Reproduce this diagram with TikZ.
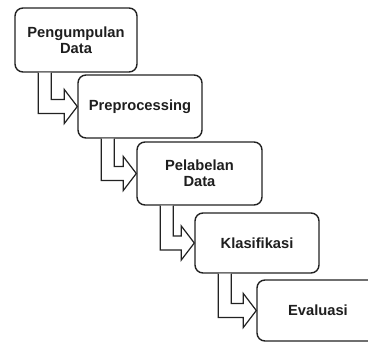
\documentclass[tikz,border=0pt]{standalone}
\usepackage{fontspec}
\setmainfont{Liberation Sans}
\usetikzlibrary{calc}
\definecolor{edge}{HTML}{222222}
\definecolor{txt}{HTML}{1E1E1E}
\tikzset{
  stagebox/.style={draw=edge, line width=1.4pt, rounded corners=8pt, fill=white,
    align=center, text=txt, font=\fontsize{14.7}{16}\selectfont\bfseries, inner sep=2pt},
  arrowline/.style={draw=edge, line width=1.2pt, line join=miter, fill=white}
}
\newcommand{\bentarrow}[2]{%
  \draw[arrowline] let \p1=(#1.south west), \p2=(#2.west) in
    (\x1+24pt,\y1) -- (\x1+24pt,\y2-7pt) -- (\x2-13pt,\y2-7pt) -- (\x2-13pt,\y2-17pt)
    -- (\x2,\y2) -- (\x2-13pt,\y2+17pt) -- (\x2-13pt,\y2+7pt) -- (\x1+37pt,\y2+7pt)
    -- (\x1+37pt,\y1);}
\begin{document}
\begin{tikzpicture}[x=1pt,y=-1pt]
\clip (0,0) rectangle (368,343);
\fill[white] (0,0) rectangle (368,343);
\node[stagebox, minimum width=122pt, minimum height=64pt] (s1) at (76,40) {Pengumpulan\\Data};
\node[stagebox, minimum width=124pt, minimum height=63pt] (s2) at (140,106.5) {Preprocessing};
\node[stagebox, minimum width=125pt, minimum height=63pt] (s3) at (199.5,173.5) {Pelabelan\\Data};
\node[stagebox, minimum width=124pt, minimum height=60pt] (s4) at (257,243) {Klasifikasi};
\node[stagebox, minimum width=122pt, minimum height=61pt] (s5) at (318,310.5) {Evaluasi};
\bentarrow{s1}{s2}
\bentarrow{s2}{s3}
\bentarrow{s3}{s4}
\bentarrow{s4}{s5}
\end{tikzpicture}
\end{document}
